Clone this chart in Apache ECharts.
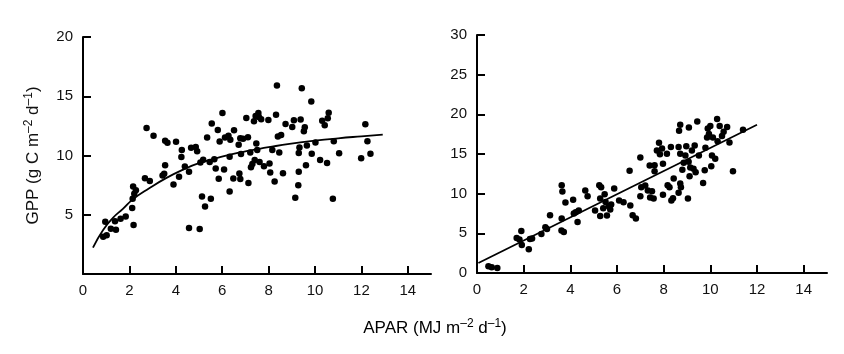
<!DOCTYPE html>
<html>
<head>
<meta charset="utf-8">
<script src="https://cdn.jsdelivr.net/npm/echarts@6/dist/echarts.min.js"></script>
<style>
  html, body { margin: 0; padding: 0; background: #fff; }
  #chart { width: 844px; height: 354px; }
</style>
</head>
<body>
<div id="chart"></div>
<script>
// left panel: GPP vs APAR, saturating fit
const leftX = [0.87,1.02,0.96,1.20,1.38,1.42,1.62,1.84,2.12,2.14,2.16,2.21,2.28,2.18,2.67,2.88,2.74,3.04,3.43,3.50,
  3.54,3.54,3.64,3.90,4.01,4.14,4.24,4.26,4.39,4.57,4.57,4.66,4.86,4.92,5.03,5.06,5.13,5.18,5.26,5.35,
  5.46,5.51,5.55,5.66,5.72,5.81,5.85,5.89,6.01,6.08,6.12,6.27,6.32,6.32,6.35,6.48,6.51,6.71,6.74,6.78,
  6.78,6.81,6.90,7.04,7.11,7.13,7.21,7.24,7.30,7.37,7.40,7.44,7.47,7.51,7.56,7.58,7.61,7.68,7.80,7.99,
  8.04,8.07,8.16,8.26,8.32,8.36,8.40,8.46,8.54,8.62,8.73,9.02,9.09,9.15,9.28,9.30,9.30,9.33,9.38,9.43,
  9.52,9.56,9.61,9.65,9.84,9.86,10.02,10.22,10.31,10.42,10.52,10.55,10.59,10.77,10.81,11.04,11.99,12.17,12.26,12.39];
const leftY = [3.15,3.26,4.41,3.82,4.46,3.74,4.66,4.85,5.58,6.36,7.39,6.78,7.06,4.13,8.09,7.84,12.33,11.66,8.31,8.45,
  9.18,11.24,11.07,7.56,11.16,8.20,9.87,10.46,9.07,8.62,3.88,10.66,10.71,10.35,3.79,9.40,6.53,9.65,5.69,11.52,
  9.46,6.36,12.69,9.68,8.90,12.16,8.03,11.19,13.58,8.81,11.52,11.66,9.90,6.97,11.32,8.06,12.13,10.91,8.48,8.01,
  11.46,10.13,11.41,13.17,11.55,7.67,10.26,9.01,9.29,12.89,9.62,13.33,11.02,10.46,13.58,13.25,9.46,13.05,9.09,13.00,
  9.32,8.56,10.46,7.81,13.44,15.90,11.60,10.26,11.74,8.51,12.66,12.41,12.97,6.44,7.48,10.21,8.62,10.68,13.03,15.68,
  12.05,12.38,9.18,10.85,14.56,10.15,11.10,9.62,12.94,12.55,9.37,13.14,13.61,6.36,11.21,10.18,9.76,12.64,11.21,10.15];
const leftFitX = [0.43,0.86,1.29,1.72,2.15,2.87,3.58,4.30,5.00,6.03,7.00,7.47,8.00,8.90,10.00,11.00,12.00,12.92];
const leftFitY = [2.23,3.70,4.74,5.50,6.30,7.25,8.09,8.79,9.35,9.92,10.35,10.52,10.70,10.98,11.25,11.45,11.62,11.77];

// right panel: linear fit
const rightX = [0.49,0.63,0.87,1.70,1.82,1.90,1.92,2.22,2.27,2.36,2.76,2.93,3.00,3.13,3.63,3.66,3.63,3.62,3.72,3.79,
  4.12,4.15,4.23,4.31,4.36,4.64,4.74,5.06,5.24,5.28,5.32,5.28,5.41,5.47,5.51,5.57,5.64,5.71,5.75,5.88,
  6.09,6.28,6.54,6.57,6.67,6.81,7.00,7.00,7.04,7.21,7.32,7.40,7.42,7.50,7.57,7.61,7.61,7.71,7.80,7.84,
  7.93,7.97,7.97,8.14,8.17,8.25,8.31,8.33,8.40,8.43,8.64,8.64,8.66,8.71,8.71,8.71,8.74,8.80,8.86,8.93,
  8.97,9.04,9.07,9.08,9.11,9.14,9.21,9.28,9.33,9.37,9.44,9.51,9.69,9.76,9.79,9.86,9.89,9.94,10.00,10.04,
  10.07,10.11,10.21,10.29,10.31,10.40,10.50,10.57,10.72,10.82,10.97,11.40];
const rightY = [0.84,0.72,0.63,4.42,4.21,5.30,3.54,2.99,4.29,4.34,4.92,5.77,5.56,7.28,11.07,10.27,6.86,5.35,5.18,8.88,
  9.22,7.49,7.66,6.44,7.87,10.40,9.68,7.87,11.07,7.20,10.82,9.39,8.16,9.93,8.96,7.24,8.42,8.00,8.63,10.65,
  9.13,8.92,12.88,8.50,7.28,6.86,14.56,9.68,10.82,11.03,10.40,13.55,9.51,10.31,9.39,13.59,12.84,15.45,16.41,14.98,
  15.70,13.76,9.85,15.03,11.07,10.82,15.87,9.13,9.43,11.91,15.87,10.10,17.93,18.69,15.03,11.28,10.82,13.01,13.89,14.81,
  15.99,9.39,14.02,18.35,12.21,13.30,15.45,13.13,16.08,12.71,19.11,14.81,11.36,12.96,15.78,17.09,18.22,17.51,18.52,13.47,
  14.81,17.09,14.39,19.40,16.62,18.52,17.26,17.80,18.39,16.46,12.84,18.06];
const rightFitX = [0.06, 12.0];
const rightFitY = [1.26, 18.69];

const xTicks = [0, 2, 4, 6, 8, 10, 12, 14];
const leftYTicks = [5, 10, 15, 20];
const rightYTicks = [0, 5, 10, 15, 20, 25, 30];

const FONT = 'Liberation Sans';
const INK = '#000';

function pairs(xs, ys) {
  return xs.map((x, i) => [x, ys[i]]);
}

function xAxisFor(idx) {
  return {
    gridIndex: idx, type: 'value', min: 0, max: 15,
    axisLine: { lineStyle: { color: INK, width: 2 } },
    axisTick: { inside: true, length: 8, customValues: xTicks, lineStyle: { color: INK, width: 2 } },
    axisLabel: { customValues: xTicks, color: '#111', fontSize: 15, fontFamily: FONT, margin: 9 },
    splitLine: { show: false }
  };
}

function yAxisFor(idx, max, ticks) {
  return {
    gridIndex: idx, type: 'value', min: 0, max: max,
    axisLine: { lineStyle: { color: INK, width: 2 } },
    axisTick: { inside: true, length: 8, customValues: ticks, lineStyle: { color: INK, width: 2 } },
    axisLabel: { customValues: ticks, color: '#111', fontSize: 15, fontFamily: FONT, margin: 10 },
    splitLine: { show: false }
  };
}

const chart = echarts.init(document.getElementById('chart'), null, { renderer: 'canvas' });

const supRich = {
  a: { fontSize: 17, fontFamily: FONT, color: '#111', lineHeight: 20 },
  s: { fontSize: 12, fontFamily: FONT, color: '#111', verticalAlign: 'top', lineHeight: 20, padding: [0, 0, 7, 0] }
};

const yName = echarts.util.extend(yAxisFor(0, 20, leftYTicks), {
  name: '{a|GPP (g C m}{s|–2}{a| d}{s|–1}{a|)}',
  nameLocation: 'middle', nameGap: 40, nameRotate: 90,
  nameTextStyle: { rich: supRich }
});

const option = {
  animation: false,
  backgroundColor: '#fff',
  grid: [
    { left: 83, top: 37, width: 348, height: 237 },
    { left: 477, top: 35, width: 350, height: 238 }
  ],
  xAxis: [xAxisFor(0), xAxisFor(1)],
  yAxis: [yName, yAxisFor(1, 30, rightYTicks)],
  graphic: [{
    type: 'text', x: 435, y: 318,
    style: {
      text: '{a|APAR (MJ m}{s|–2}{a| d}{s|–1}{a|)}',
      align: 'center',
      rich: supRich
    }
  }],
  series: [
    { type: 'scatter', xAxisIndex: 0, yAxisIndex: 0, data: pairs(leftX, leftY),
      symbolSize: 6.5, itemStyle: { color: INK, opacity: 1 } },
    { type: 'line', xAxisIndex: 0, yAxisIndex: 0, data: pairs(leftFitX, leftFitY),
      smooth: true, showSymbol: false, lineStyle: { color: INK, width: 1.8 } },
    { type: 'scatter', xAxisIndex: 1, yAxisIndex: 1, data: pairs(rightX, rightY),
      symbolSize: 6.5, itemStyle: { color: INK, opacity: 1 } },
    { type: 'line', xAxisIndex: 1, yAxisIndex: 1, data: pairs(rightFitX, rightFitY),
      showSymbol: false, lineStyle: { color: INK, width: 1.8 } }
  ]
};

chart.setOption(option);
</script>
</body>
</html>
